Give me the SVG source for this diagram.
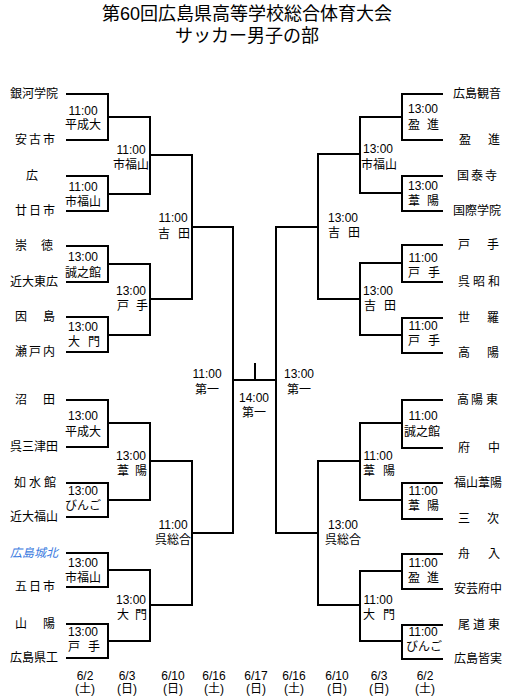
<svg xmlns="http://www.w3.org/2000/svg" width="510" height="700" viewBox="0 0 510 700">
<style>
text{font-family:"Liberation Sans","Noto Sans CJK JP",sans-serif;font-size:12px;fill:#000}
.title{font-size:18px}
.c{text-anchor:middle}
.blue{fill:#3a7be0;font-style:italic}
.ln{fill:none;stroke:#000;stroke-width:2}
</style>
<rect width="510" height="700" fill="#fff"/>
<g id="title">
<text class="title c" x="247" y="20">第60回広島県高等学校総合体育大会</text>
<text class="title c" x="247" y="42">サッカー男子の部</text>
</g>
<g id="connectors" class="ln">
<path class="ln" d="M66 94H108V140H66M66 176H108V211H66M66 246H108V282H66M66 317H108V352H66M66 400H108V447H66M66 483H108V517H66M66 553H108V587H66M66 624H108V658H66"/>
<path class="ln" d="M108 117H150V194H108M108 264H150V335H108M108 423H150V500H108M108 570H150V641H108"/>
<path class="ln" d="M150 155H192V299H150M150 461H192V605H150"/>
<path class="ln" d="M192 227H233V533H192"/>
<path class="ln" d="M443 94H402V140H443M443 176H402V211H443M443 245H402V282H443M443 318H402V353H443M443 400H402V448H443M443 483H402V519H443M443 554H402V589H443M443 625H402V659H443"/>
<path class="ln" d="M402 117H360V193H402M402 263H360V335H402M402 423H360V500H402M402 571H360V641H402"/>
<path class="ln" d="M360 154H318V299H360M360 461H318V605H360"/>
<path class="ln" d="M318 227H276V533H318"/>
<path class="ln" d="M233 380H276M255 363V380"/>
</g>
<g id="teams-left">
<g id="t-ginga"><text x="10" y="98">銀河学院</text></g>
<g id="t-yasufuruichi"><text x="15 29 43" y="144">安古市</text></g>
<g id="t-hiro"><text x="26" y="180">広</text></g>
<g id="t-hatsukaichi"><text x="15 29 43" y="215">廿日市</text></g>
<g id="t-sotoku"><text x="15 41" y="250">崇徳</text></g>
<g id="t-kindaihigashihiro"><text x="10" y="286">近大東広</text></g>
<g id="t-innoshima"><text x="15 43" y="321">因島</text></g>
<g id="t-setonai"><text x="15 29 43" y="356">瀬戸内</text></g>
<g id="t-numata"><text x="15 43" y="404">沼田</text></g>
<g id="t-kuremitsuta"><text x="10" y="451">呉三津田</text></g>
<g id="t-josuikan"><text x="14 29 44" y="487">如水館</text></g>
<g id="t-kindaifukuyama"><text x="10" y="521">近大福山</text></g>
<g id="t-johoku"><text class="blue" x="10" y="557">広島城北</text></g>
<g id="t-itsukaichi"><text x="15 29 43" y="591">五日市</text></g>
<g id="t-sanyo"><text x="15 43" y="628">山陽</text></g>
<g id="t-kenko"><text x="10" y="662">広島県工</text></g>
</g>
<g id="teams-right">
<g id="t-kannon"><text x="453" y="98">広島観音</text></g>
<g id="t-eishin"><text x="459 488" y="144">盈進</text></g>
<g id="t-kokutaiji"><text x="457 471 485" y="180">国泰寺</text></g>
<g id="t-kokusai"><text x="453" y="215">国際学院</text></g>
<g id="t-tode"><text x="458 487" y="249">戸手</text></g>
<g id="t-kureshowa"><text x="458 473 488" y="286">呉昭和</text></g>
<g id="t-sera"><text x="458 487" y="322">世羅</text></g>
<g id="t-koyo"><text x="458 487" y="357">高陽</text></g>
<g id="t-koyohigashi"><text x="457 471 486" y="404">高陽東</text></g>
<g id="t-fuchu"><text x="458 488" y="452">府中</text></g>
<g id="t-fukuyamaiyo"><text x="454" y="487">福山葦陽</text></g>
<g id="t-miyoshi"><text x="458 487" y="523">三次</text></g>
<g id="t-funairi"><text x="458 488" y="558">舟入</text></g>
<g id="t-akifuchu"><text x="454" y="593">安芸府中</text></g>
<g id="t-onomichihigashi"><text x="458 473 488" y="629">尾道東</text></g>
<g id="t-minami"><text x="454" y="663">広島皆実</text></g>
</g>
<g id="match-labels">
<g id="m-l1"><text class="c" x="83" y="115">11:00</text><text class="c" x="83" y="129">平成大</text></g>
<g id="m-l2"><text class="c" x="83" y="191">11:00</text><text class="c" x="83" y="206">市福山</text></g>
<g id="m-l3"><text class="c" x="83" y="261">13:00</text><text class="c" x="83" y="277">誠之館</text></g>
<g id="m-l4"><text class="c" x="83" y="331">13:00</text><text x="68 88" y="346">大門</text></g>
<g id="m-l5"><text class="c" x="83" y="420">13:00</text><text class="c" x="83" y="436">平成大</text></g>
<g id="m-l6"><text class="c" x="83" y="495">13:00</text><text class="c" x="83" y="510">びんご</text></g>
<g id="m-l7"><text class="c" x="83" y="567">13:00</text><text class="c" x="83" y="582">市福山</text></g>
<g id="m-l8"><text class="c" x="83" y="636">13:00</text><text x="68 88" y="651">戸手</text></g>
<g id="m-l9"><text class="c" x="131" y="154">11:00</text><text class="c" x="131" y="169">市福山</text></g>
<g id="m-l10"><text class="c" x="131" y="295">13:00</text><text x="117 136" y="310">戸手</text></g>
<g id="m-l11"><text class="c" x="131" y="460">13:00</text><text x="117 135" y="475">葦陽</text></g>
<g id="m-l12"><text class="c" x="131" y="604">13:00</text><text x="117 135" y="619">大門</text></g>
<g id="m-l13"><text class="c" x="173" y="222">11:00</text><text x="158 178" y="238">吉田</text></g>
<g id="m-l14"><text class="c" x="173" y="529">11:00</text><text class="c" x="173" y="544">呉総合</text></g>
<g id="m-sl"><text class="c" x="207" y="378">11:00</text><text class="c" x="207" y="394">第一</text></g>
<g id="m-final"><text class="c" x="254" y="402">14:00</text><text class="c" x="254" y="417">第一</text></g>
<g id="m-sr"><text class="c" x="299" y="378">13:00</text><text class="c" x="299" y="394">第一</text></g>
<g id="m-r1"><text class="c" x="423" y="113">13:00</text><text x="408 427" y="129">盈進</text></g>
<g id="m-r2"><text class="c" x="423" y="190">13:00</text><text x="408 427" y="205">葦陽</text></g>
<g id="m-r3"><text class="c" x="423" y="262">11:00</text><text x="408 428" y="277">戸手</text></g>
<g id="m-r4"><text class="c" x="423" y="330">11:00</text><text x="408 428" y="345">戸手</text></g>
<g id="m-r5"><text class="c" x="423" y="420">11:00</text><text class="c" x="422" y="436">誠之館</text></g>
<g id="m-r6"><text class="c" x="423" y="495">11:00</text><text x="408 427" y="510">葦陽</text></g>
<g id="m-r7"><text class="c" x="423" y="567">11:00</text><text x="408 427" y="582">盈進</text></g>
<g id="m-r8"><text class="c" x="423" y="636">11:00</text><text class="c" x="424" y="651">びんご</text></g>
<g id="m-r9"><text class="c" x="378" y="153">13:00</text><text class="c" x="379" y="169">市福山</text></g>
<g id="m-r10"><text class="c" x="378" y="295">13:00</text><text x="364 384" y="310">吉田</text></g>
<g id="m-r11"><text class="c" x="378" y="460">11:00</text><text x="363 383" y="475">葦陽</text></g>
<g id="m-r12"><text class="c" x="378" y="604">11:00</text><text x="363 383" y="619">大門</text></g>
<g id="m-r13"><text class="c" x="343" y="222">13:00</text><text x="328 348" y="237">吉田</text></g>
<g id="m-r14"><text class="c" x="343" y="529">13:00</text><text class="c" x="343" y="544">呉総合</text></g>
</g>
<g id="dates">
<text class="c" x="85" y="680">6/2</text><text class="c" x="85" y="693">(土)</text>
<text class="c" x="127" y="680">6/3</text><text class="c" x="127" y="693">(日)</text>
<text class="c" x="173" y="680">6/10</text><text class="c" x="173" y="693">(日)</text>
<text class="c" x="214" y="680">6/16</text><text class="c" x="214" y="693">(土)</text>
<text class="c" x="256" y="680">6/17</text><text class="c" x="256" y="693">(日)</text>
<text class="c" x="294" y="680">6/16</text><text class="c" x="294" y="693">(土)</text>
<text class="c" x="337" y="680">6/10</text><text class="c" x="337" y="693">(日)</text>
<text class="c" x="379" y="680">6/3</text><text class="c" x="379" y="693">(日)</text>
<text class="c" x="425" y="680">6/2</text><text class="c" x="425" y="693">(土)</text>
</g>
</svg>
